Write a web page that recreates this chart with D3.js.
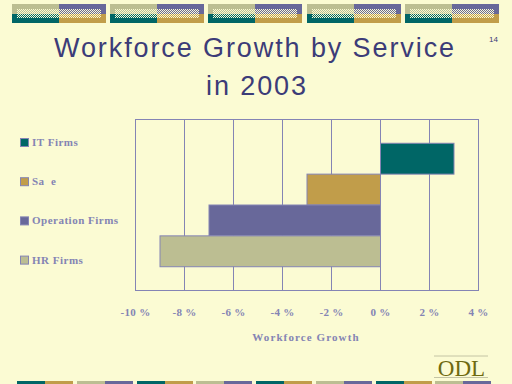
<!DOCTYPE html>
<html>
<head>
<meta charset="utf-8">
<script src="https://cdn.jsdelivr.net/npm/d3@7"></script>
<style>
  body { margin: 0; background: #fbfbd3; }
  svg { display: block; }
  text { white-space: pre; }
</style>
</head>
<body>
<svg id="chart"></svg>
<script>
const categories = ["IT Firms", "Sa  e", "Operation Firms", "HR Firms"];
const growth = [3, -3, -7, -9];
const ticks = [-10, -8, -6, -4, -2, 0, 2, 4];

const width = 512;
const height = 384;
const teal = "#006666", gold = "#c19d4a", purple = "#68689a", khaki = "#bcbe92";
const barColors = [teal, gold, purple, khaki];
const lineColor = "#8484b4";
const textColor = "#8484b4";
const titleColor = "#3c3c78";

const svg = d3.select("#chart")
    .attr("width", width)
    .attr("height", height);

svg.append("rect").attr("width", width).attr("height", height).attr("fill", "#fbfbd3");

// checker overlay pattern
const defs = svg.append("defs");
const pat = defs.append("pattern")
    .attr("id", "checker")
    .attr("width", 2).attr("height", 2)
    .attr("patternUnits", "userSpaceOnUse");
pat.append("rect").attr("width", 1).attr("height", 1).attr("fill", "#fbfbd3");
pat.append("rect").attr("x", 1).attr("y", 1).attr("width", 1).attr("height", 1).attr("fill", "#fbfbd3");

// top decoration
const topX = [12, 110, 208, 307, 405];
const deco = svg.selectAll(".deco").data(topX).enter().append("g")
    .attr("transform", d => `translate(${d},4)`);
deco.append("rect").attr("width", 47).attr("height", 10).attr("fill", khaki);
deco.append("rect").attr("x", 47).attr("width", 47).attr("height", 10).attr("fill", purple);
deco.append("rect").attr("y", 10).attr("width", 47).attr("height", 9).attr("fill", teal);
deco.append("rect").attr("x", 47).attr("y", 10).attr("width", 47).attr("height", 9).attr("fill", gold);
deco.append("rect").attr("x", 5).attr("y", 5).attr("width", 84).attr("height", 9).attr("fill", "url(#checker)");

// bottom decoration
const bottomX = [17, 77, 137, 196, 256, 316, 376, 435];
svg.selectAll(".bot").data(bottomX).enter().append("g")
    .each(function (d, i) {
        const g = d3.select(this);
        const pair = i % 2 === 0 ? [teal, gold] : [khaki, purple];
        g.append("rect").attr("x", d).attr("y", 381).attr("width", 28).attr("height", 4).attr("fill", pair[0]);
        g.append("rect").attr("x", d + 28).attr("y", 381).attr("width", 28).attr("height", 4).attr("fill", pair[1]);
    });

// title
const title = svg.append("text")
    .attr("text-anchor", "middle")
    .attr("font-family", "Liberation Sans, Arial, sans-serif")
    .attr("font-size", 27)
    .attr("letter-spacing", 1.9)
    .attr("fill", titleColor);
title.append("tspan").attr("x", 255).attr("y", 57).text("Workforce Growth by Service");
title.append("tspan").attr("x", 257).attr("y", 95).text("in 2003");

svg.append("text")
    .attr("x", 489).attr("y", 41.5)
    .attr("font-family", "Liberation Sans, Arial, sans-serif")
    .attr("font-size", 8)
    .attr("fill", titleColor)
    .text("14");

// plot
const plot = { left: 135.5, right: 478.5, top: 119.5, bottom: 290.5 };
const x = d3.scaleLinear().domain([-10, 4]).range([plot.left, plot.right]);
const y = d3.scaleBand().domain(categories).range([plot.top, plot.bottom])
    .paddingInner(0).paddingOuter(0.77);

svg.append("g").selectAll("line").data(ticks).enter().append("line")
    .attr("x1", d => x(d)).attr("x2", d => x(d))
    .attr("y1", plot.top).attr("y2", plot.bottom)
    .attr("stroke", lineColor).attr("stroke-width", 1);

svg.append("rect")
    .attr("x", plot.left).attr("y", plot.top)
    .attr("width", plot.right - plot.left).attr("height", plot.bottom - plot.top)
    .attr("fill", "none").attr("stroke", lineColor).attr("stroke-width", 1);

svg.append("g").selectAll("rect").data(categories).enter().append("rect")
    .attr("x", (d, i) => x(Math.min(0, growth[i])))
    .attr("y", d => y(d))
    .attr("width", (d, i) => Math.abs(x(growth[i]) - x(0)))
    .attr("height", y.bandwidth())
    .attr("fill", (d, i) => barColors[i])
    .attr("stroke", lineColor).attr("stroke-width", 1);

// x axis labels
const serif = "Liberation Serif, Times New Roman, serif";
svg.append("g").selectAll("text").data(ticks).enter().append("text")
    .attr("x", d => x(d))
    .attr("y", 316)
    .attr("text-anchor", "middle")
    .attr("font-family", serif).attr("font-weight", "bold")
    .attr("font-size", 11).attr("letter-spacing", 0.3)
    .attr("fill", textColor)
    .text(d => d + " %");

svg.append("text")
    .attr("x", 306).attr("y", 341)
    .attr("text-anchor", "middle")
    .attr("font-family", serif).attr("font-weight", "bold")
    .attr("font-size", 11).attr("letter-spacing", 1.1)
    .attr("fill", textColor)
    .text("Workforce Growth");

// legend
const legend = svg.append("g").selectAll("g").data(categories).enter().append("g")
    .attr("transform", (d, i) => `translate(20,${142.5 + i * 39.2})`);
legend.append("rect")
    .attr("x", 0.5).attr("y", -4).attr("width", 8).attr("height", 8)
    .attr("fill", (d, i) => barColors[i])
    .attr("stroke", lineColor).attr("stroke-width", 1);
legend.append("text")
    .attr("x", 12).attr("y", 3.5)
    .attr("font-family", serif).attr("font-weight", "bold")
    .attr("font-size", 11).attr("letter-spacing", 0.5)
    .attr("fill", textColor)
    .text(d => d);

// logo
const logo = svg.append("g");
logo.append("line").attr("x1", 434).attr("x2", 488).attr("y1", 356).attr("y2", 356)
    .attr("stroke", "#c4c4a4").attr("stroke-width", 1);
logo.append("line").attr("x1", 434).attr("x2", 488).attr("y1", 377.5).attr("y2", 377.5)
    .attr("stroke", "#c4c4a4").attr("stroke-width", 1);
logo.append("text")
    .attr("x", 461.5).attr("y", 375.5)
    .attr("text-anchor", "middle")
    .attr("font-family", serif)
    .attr("font-size", 23)
    .attr("fill", "#6e6a10")
    .text("ODL");
</script>
</body>
</html>
